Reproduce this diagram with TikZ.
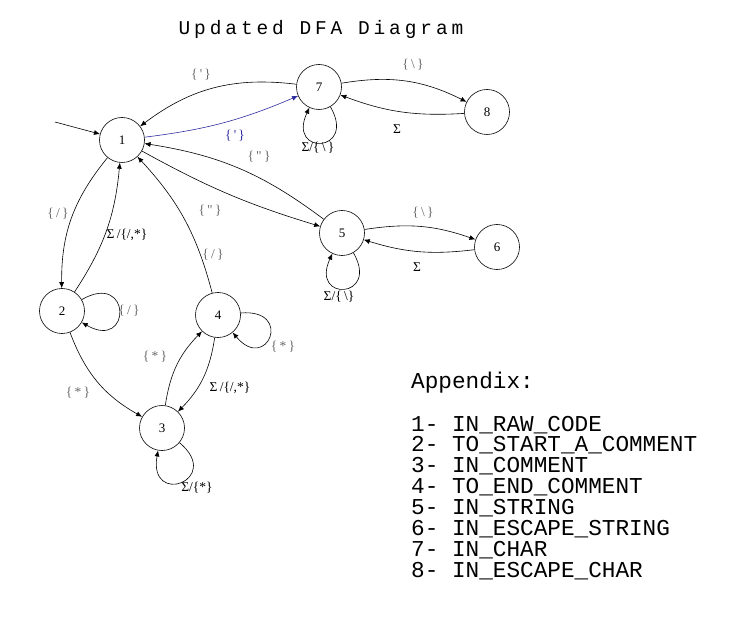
\documentclass[tikz,border=0pt]{standalone}
\usepackage{fontspec}
\setmainfont{Liberation Serif}
\newfontfamily\lcdfont{Liberation Mono}
\newfontfamily\lcdtitlefont[LetterSpace=20]{Liberation Mono}
\usetikzlibrary{arrows.meta}

\definecolor{dfaLabelGray}{RGB}{105,105,105}
\definecolor{dfaBlue}{RGB}{45,45,160}
\tikzset{dfaState/.style={
    circle,
    draw=black,
    line width=0.6pt,
    minimum size=45pt,
    inner sep=0pt,
    font=\fontsize{13}{15}\selectfont,
  }
}
\tikzset{dfaArrow/.style={
    -{Latex[length=6pt,width=5pt]},
    line width=0.6pt,
    black,
  }
}
\tikzset{dfaLabel/.style={
    font=\fontsize{13.5}{15}\selectfont,
    text=dfaLabelGray,
    inner sep=1pt,
  }
}
\tikzset{dfaSigma/.style={
    dfaLabel,
    text=black,
  }
}
\tikzset{appendixText/.style={
    font=\lcdfont\fontsize{22.7}{21}\selectfont,
    anchor=base west,
    inner sep=0pt,
  }
}

\begin{document}
\begin{tikzpicture}[x=1pt,y=-1pt]
  \useasboundingbox (0,0) rectangle (736,620);

  \node [font=\lcdtitlefont\fontsize{19.5}{21}\selectfont, anchor=base] (title)
  at (321,35) {Updated DFA Diagram};

  % states
  \node [dfaState] (s1) at (122,140) {1};
  \node [dfaState] (s2) at (62,311) {2};
  \node [dfaState] (s3) at (162,428) {3};
  \node [dfaState] (s4) at (218,315) {4};
  \node [dfaState] (s5) at (342,233) {5};
  \node [dfaState] (s6) at (497,247) {6};
  \node [dfaState] (s7) at (319,87) {7};
  \node [dfaState] (s8) at (487,112) {8};
  \coordinate (start) at (55,122);

  % transitions
  \draw[dfaArrow] (start) -- (s1);
  \draw[dfaArrow] (s7) to[bend right=22] (s1);
  \draw[dfaArrow, dfaBlue] (s1) to[bend right=8] (s7);
  \draw[dfaArrow] (s7) to[bend left=18] (s8);
  \draw[dfaArrow] (s8) to[bend left=12] (s7);
  \draw[dfaArrow] (s7) to[out=-60, in=-115, looseness=6.5] (s7);
  \draw[dfaArrow] (s5) to[bend right=14] (s1);
  \draw[dfaArrow] (s1) to[bend right=6] (s5);
  \draw[dfaArrow] (s5) to[bend left=14] (s6);
  \draw[dfaArrow] (s6) to[bend left=12] (s5);
  \draw[dfaArrow] (s5) to[out=-60, in=-115, looseness=6.5] (s5);
  \draw[dfaArrow] (s1) to[bend right=20] (s2);
  \draw[dfaArrow] (s2) to[bend right=14] (s1);
  \draw[dfaArrow] (s2) to[out=30, in=-30, looseness=6.5] (s2);
  \draw[dfaArrow] (s4) to[bend right=14] (s1);
  \draw[dfaArrow] (s2) to[bend right=20] (s3);
  \draw[dfaArrow] (s3) to[bend left=18] (s4);
  \draw[dfaArrow] (s4) to[bend left=18] (s3);
  \draw[dfaArrow] (s4) to[out=5, in=-50, looseness=6.5] (s4);
  \draw[dfaArrow] (s3) to[out=-40, in=-100, looseness=6.5] (s3);

  % labels
  \node [dfaLabel] (l71) at (201,75) {\{\,\textquotesingle\,\}};
  \node [dfaLabel, text=dfaBlue] (l17) at (235,136) {\{\,\textquotesingle\,\}};
  \node [dfaLabel] (l78) at (413,65) {\{\,\textbackslash\,\}};
  \node [dfaSigma] (l87) at (397,129) {Σ};
  \node [dfaSigma] (l77) at (318,148) {Σ/\{\,\textbackslash\,\}};
  \node [dfaLabel] (l51) at (259,157) {\{\,\textquotedbl\,\}};
  \node [dfaLabel] (l15) at (210,211) {\{\,\textquotedbl\,\}};
  \node [dfaLabel] (l56) at (423,213) {\{\,\textbackslash\,\}};
  \node [dfaSigma] (l65) at (417,267) {Σ};
  \node [dfaSigma] (l55) at (339,297) {Σ/\{\,\textbackslash\}};
  \node [dfaLabel] (l12) at (58,214) {\{\,/\,\}};
  \node [dfaSigma] (l21) at (127,235) {Σ\,/\{/,*\}};
  \node [dfaLabel] (l22) at (129,311) {\{\,/\,\}};
  \node [dfaLabel] (l41) at (213,255) {\{\,/\,\}};
  \node [dfaLabel] (l23) at (78,393) {\{\,*\,\}};
  \node [dfaLabel] (l34) at (155,357) {\{\,*\,\}};
  \node [dfaSigma] (l43) at (230,388) {Σ\,/\{/,*\}};
  \node [dfaLabel] (l44) at (283,347) {\{\,*\,\}};
  \node [dfaSigma] (l33) at (197,488) {Σ/\{*\}};

  % appendix
  \node [appendixText] (appendix) at (411,388) {Appendix:};
  \foreach \i/\txt in {1/IN\_RAW\_CODE, 2/TO\_START\_A\_COMMENT, 3/IN\_COMMENT,
    4/TO\_END\_COMMENT, 5/IN\_STRING, 6/IN\_ESCAPE\_STRING, 7/IN\_CHAR,
    8/IN\_ESCAPE\_CHAR}
    \node [appendixText] (ap\i) at (411,{431+20.9*(\i-1)}) {\i- \txt};
\end{tikzpicture}
\end{document}
